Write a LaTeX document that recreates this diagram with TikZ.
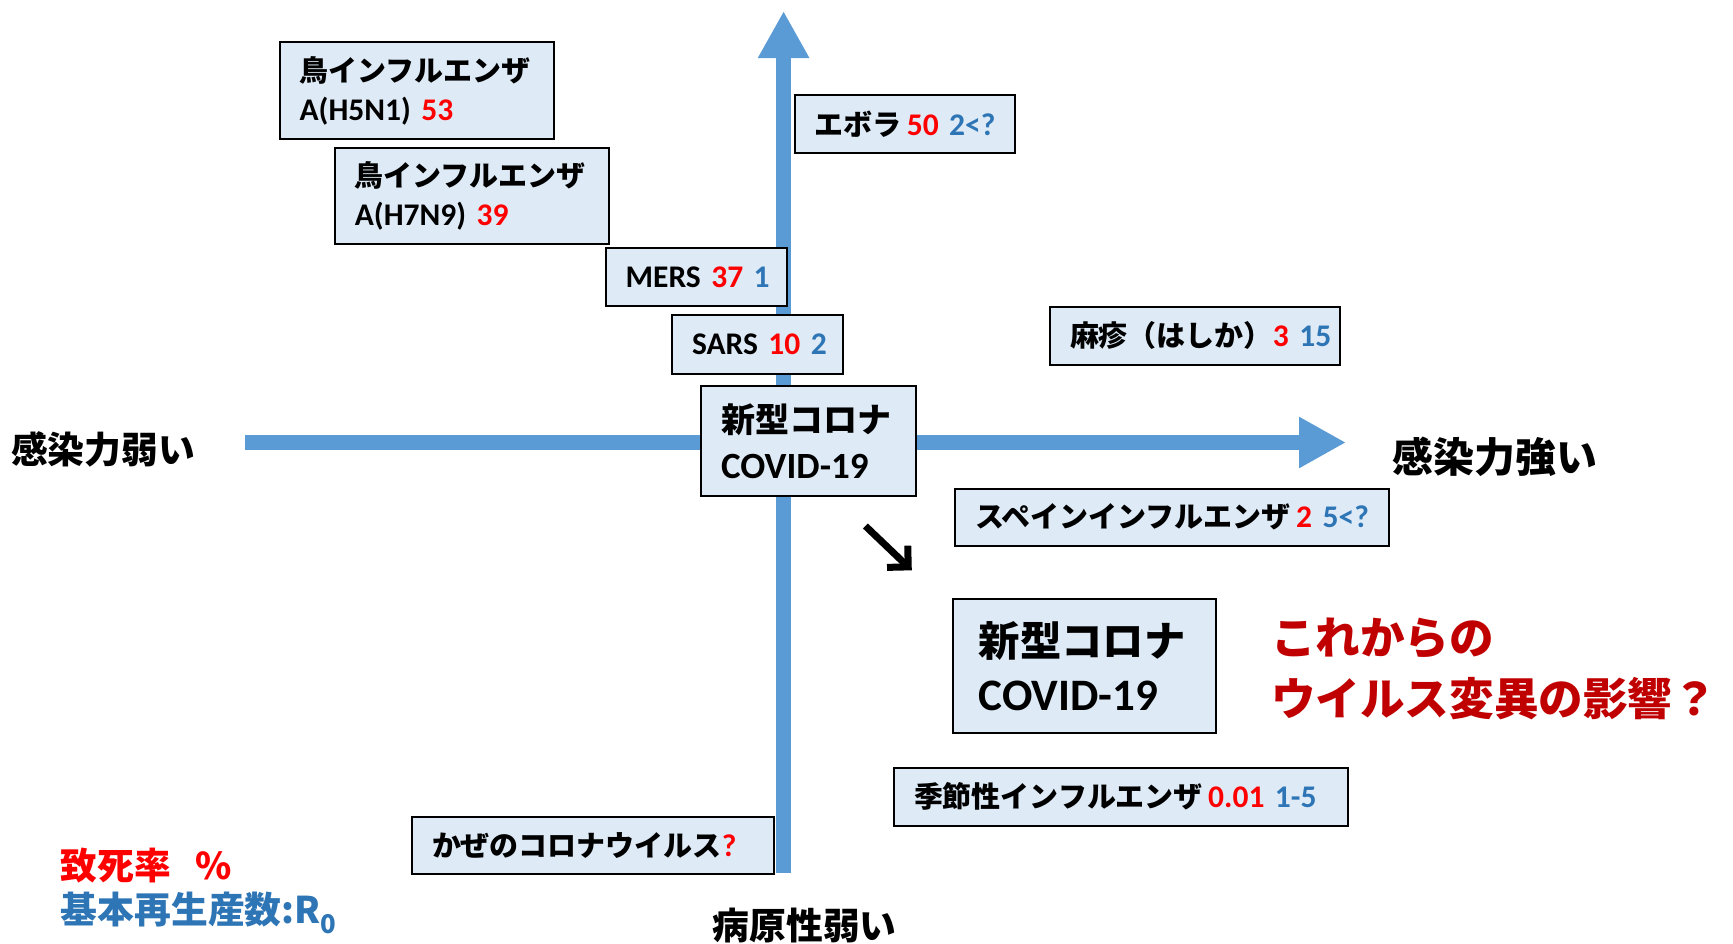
\documentclass[tikz,border=0pt]{standalone}
\usepackage{fontspec}
\setmainfont{Carlito}
\newfontfamily\jp{Noto Sans CJK JP}[Scale=0.92]
\usetikzlibrary{arrows.meta}
\definecolor{axisblue}{HTML}{5B9BD5}
\definecolor{boxfill}{HTML}{DEEBF7}
\definecolor{numred}{HTML}{FF0000}
\definecolor{numblue}{HTML}{2E75B6}
\definecolor{darkred}{HTML}{C00000}
\newcommand\J[1]{{\jp #1}}
\newcommand\Rd[1]{\textcolor{numred}{#1}}
\newcommand\Bl[1]{\textcolor{numblue}{#1}}
\begin{document}
\begin{tikzpicture}[x=1pt,y=-1pt,
  box/.style={draw=black, line width=2pt, fill=boxfill, anchor=north west,
    inner xsep=20pt, inner ysep=0pt, align=left, outer sep=0pt,
    font=\bfseries\fontsize{31.5}{39}\selectfont},
  lbl/.style={inner sep=0pt, outer sep=0pt},
  axis/.style={line width=15pt, draw=axisblue, -{Triangle[length=47pt,width=48pt]}},
  turn/.style={line width=7pt, draw=black, -{Straight Barb[length=15pt,width=30pt]}}]
\useasboundingbox (0,0) rectangle (1733,943);
% axes
\coordinate (hs) at (245,442.5);
\coordinate (he) at (1346,442.5);
\coordinate (vs) at (783.6,873);
\coordinate (ve) at (783.6,11);
\draw[axis] (hs) -- (he);
\draw[axis] (vs) -- (ve);
% boxes
\node[box, minimum width=274pt, minimum height=97.3pt, text width=234pt] (h5n1) at (279.6,42)
  {\J{鳥インフルエンザ}\\A(H5N1)~\Rd{53}};
\node[box, minimum width=274pt, minimum height=96pt, text width=234pt] (h7n9) at (334.9,148)
  {\J{鳥インフルエンザ}\\A(H7N9)~\Rd{39}};
\node[box, minimum width=220pt, minimum height=57.5pt, text width=180pt] (ebola) at (794.6,95)
  {\J{エボラ}\,\Rd{50}~\Bl{2<?}};
\node[box, minimum width=181.4pt, minimum height=58.4pt, text width=141.4pt] (mers) at (605.6,247.6)
  {MERS~\Rd{37}~\Bl{1}};
\node[box, minimum width=171pt, minimum height=58.6pt, text width=131pt] (sars) at (672,315)
  {SARS~\Rd{10}~\Bl{2}};
\node[box, minimum width=289.5pt, minimum height=57.7pt, text width=249.5pt] (measles) at (1050,307)
  {\J{麻疹（はしか）}\Rd{3}~\Bl{15}};
\node[box, minimum width=215pt, minimum height=110.3pt, text width=175pt,
  font=\bfseries\fontsize{37}{46}\selectfont] (covid) at (701,385.7)
  {\J{新型コロナ}\\COVID-19};
\node[box, minimum width=434pt, minimum height=57.5pt, text width=394pt] (spanish) at (955,488.5)
  {\J{スペインインフルエンザ}\,\Rd{2}~\Bl{5<?}};
\node[box, minimum width=263pt, minimum height=133.7pt, text width=211pt, inner xsep=26pt,
  font=\bfseries\fontsize{45}{54}\selectfont] (covidbig) at (952.7,599)
  {\J{新型コロナ}\\COVID-19};
\node[box, minimum width=454.4pt, minimum height=57.6pt, text width=414.4pt] (seasonal) at (894,768)
  {\J{季節性インフルエンザ}\,\Rd{0.01}~\Bl{1-5}};
\node[box, minimum width=361.6pt, minimum height=57.3pt, text width=321.6pt] (cold) at (412,816.7)
  {\J{かぜのコロナウイルス}\Rd{?}};
% diagonal arrow
\coordinate (ds) at (865.4,526);
\coordinate (de) at (911.8,570.3);
\draw[turn] (ds) -- (de);
% labels
\node[lbl, anchor=west, font=\jp\bfseries\fontsize{40}{40}\selectfont] (weak) at (11,449.8) {感染力弱い};
\node[lbl, anchor=west, font=\jp\bfseries\fontsize{44.5}{44.5}\selectfont] (strong) at (1392.5,456.4) {感染力強い};
\node[lbl, anchor=center, font=\jp\bfseries\fontsize{40}{40}\selectfont] (patho) at (804.6,926) {病原性弱い};
\node[lbl, anchor=west, text=darkred, font=\jp\bfseries\fontsize{48.5}{48.5}\selectfont] (fut1) at (1271,638.8) {これからの};
\node[lbl, anchor=west, text=darkred, font=\jp\bfseries\fontsize{48.5}{48.5}\selectfont] (fut2) at (1271,698.5) {ウイルス変異の影響？};
\node[lbl, anchor=west, text=numred, font=\jp\bfseries\fontsize{40}{40}\selectfont] (leg1) at (60.8,865.4) {致死率\hspace{24pt}\%};
\node[lbl, anchor=west, text=numblue, font=\jp\bfseries\fontsize{40}{40}\selectfont] (leg2) at (60.8,913) {基本再生産数:R\textsubscript{0}};
\end{tikzpicture}
\end{document}
